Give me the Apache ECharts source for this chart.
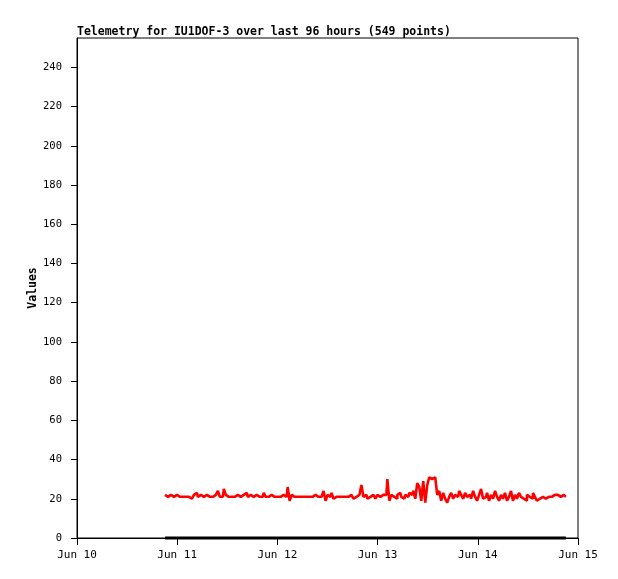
<!DOCTYPE html>
<html>
<head>
<meta charset="utf-8">
<script src="https://cdn.jsdelivr.net/npm/echarts@6/dist/echarts.min.js"></script>
<style>html,body{margin:0;padding:0;background:#fff}#c{width:618px;height:579px}</style>
</head>
<body>
<div id="c"></div>
<script>
var titleText = 'Telemetry for IU1DOF-3 over last 96 hours (549 points)';
var yAxisName = 'Values';
var monthNames = ['Jan','Feb','Mar','Apr','May','Jun','Jul','Aug','Sep','Oct','Nov','Dec'];
var axisStart = Date.UTC(2024, 5, 10);
var axisEnd = Date.UTC(2024, 5, 15);
var seriesStart = Date.UTC(2024, 5, 10, 21, 5);
var seriesEnd = Date.UTC(2024, 5, 14, 21, 5);

var valuesA = [
22,21,21,22,21,21,22,21,22,21,21,22,21,20,21,22,23,21,22,21,21,22,21,22,21,22,22,24,21,21,25,22,21,
21,22,21,22,21,21,22,21,23,21,22,21,21,22,21,22,21,23,21,21,22,21,21,21,21,21,22,21,21,26,19,22,21,21,
21,21,21,20,21,21,21,21,22,21,21,21,21,24,19,22,21,23,20,21,21,20,21,21,21,21,22,21,20,21,22,21,27,21,
22,20,21,22,21,20,22,21,22,21,22,30,19,22,21,20,22,23,21,20,22,21,23,22,24,20,28,26,19,29,18,27,31,30,
31,30,22,24,19,23,20,18,21,23,20,22,21,24,22,20,23,21,22,20,24,21,19,22,25,20,21,23,19,22,20,24,21,19,
22,20,23,19,21,24,19,22,20,23,21,20,19,22,21,20,23,21,19,20,21,21,20,21,22,21,22,21,22,21,20,22,21
];
var valuesB = [0, 0];

var step = (seriesEnd - seriesStart) / (valuesA.length - 1);
var dataA = valuesA.map(function (v, i) { return [seriesStart + i * step, v]; });
var dataB = [[seriesStart, valuesB[0]], [seriesEnd, valuesB[1]]];

var font = '"DejaVu Sans Mono", "Liberation Mono", monospace';
var chart = echarts.init(document.getElementById('c'));
chart.setOption({
  animation: false,
  backgroundColor: '#fff',
  title: {
    text: titleText, left: 77, top: 26, padding: 0,
    textStyle: { fontFamily: font, fontSize: 11.5, fontWeight: 'bold', color: '#000' }
  },
  grid: { left: 77, right: 40, top: 38, bottom: 41, show: true, borderColor: '#000', borderWidth: 1, backgroundColor: '#fff' },
  xAxis: {
    type: 'value', min: axisStart, max: axisEnd, interval: 86400000,
    axisLine: { show: true, onZero: false, lineStyle: { color: '#000', width: 1 } },
    axisTick: { show: true, length: 7, lineStyle: { color: '#000' } },
    splitLine: { show: false },
    axisLabel: {
      margin: 12, color: '#000', fontFamily: font, fontSize: 11,
      formatter: function (v) { var d = new Date(v); return monthNames[d.getUTCMonth()] + ' ' + d.getUTCDate(); }
    }
  },
  yAxis: {
    type: 'value', min: 0, max: 255, interval: 20,
    name: yAxisName, nameLocation: 'middle', nameGap: 38, nameMoveOverlap: false,
    nameTextStyle: { fontFamily: font, fontSize: 11.5, fontWeight: 'bold', color: '#000' },
    axisLine: { show: true, lineStyle: { color: '#000', width: 1 } },
    axisTick: { show: true, length: 6, lineStyle: { color: '#000' } },
    splitLine: { show: false },
    axisLabel: { margin: 15, color: '#000', fontFamily: font, fontSize: 10.5, showMaxLabel: false }
  },
  series: [
    { type: 'line', data: dataB, showSymbol: false, clip: false, lineStyle: { color: '#000', width: 3 }, z: 2 },
    { type: 'line', data: dataA, step: 'middle', showSymbol: false, lineStyle: { color: '#ff0000', width: 2.6, join: 'bevel' }, z: 3 }
  ]
});
</script>
</body>
</html>
